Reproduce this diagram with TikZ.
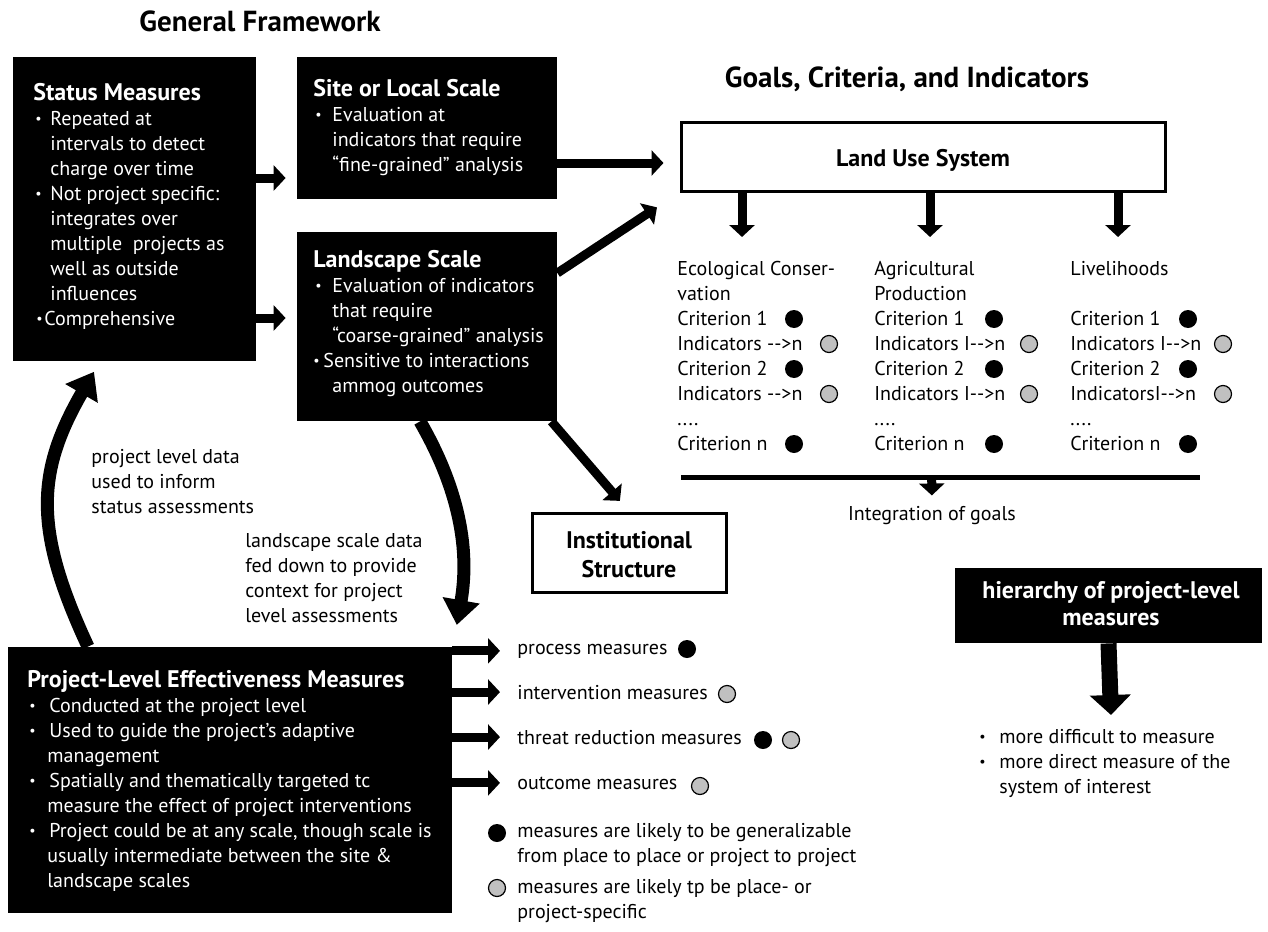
\documentclass[tikz,border=0pt]{standalone}
\usepackage{fontspec}
\setmainfont{PT Sans}
\usepackage{tikz}
\usetikzlibrary{arrows.meta, fit, calc}

\definecolor{dotgray}{RGB}{192,192,192}

\newcommand\dotbul{\raisebox{0.6pt}{\fontsize{7}{7}\selectfont•}}
\newcommand\bul[2]{\hspace*{#1}\makebox[#2][l]{\dotbul}}
\newcommand\hang[1]{\hspace*{#1}}
\newcommand\boxtitle{\fontsize{12}{12.5}\selectfont\bfseries}

\tikzset{
  blackbox/.style={fill=black, draw=none, inner sep=0pt},
  whitebox/.style={draw=black, line width=1.5pt, inner sep=0pt},
  bodytext/.style={inner sep=0pt, align=left, font=\fontsize{10}{12.5}\selectfont},
  whitetext/.style={bodytext, text=white},
  heading/.style={inner sep=0pt, font=\fontsize{14.5}{16}\selectfont\bfseries},
  fatarrow/.style={line width=4.5pt, -{Triangle[width=12.5pt, length=6pt]}},
  bigarc/.style={line width=6.5pt, -{Triangle[width=18pt, length=12.5pt]}},
  blackdot/.style={circle, fill=black, inner sep=0pt, minimum size=9pt},
  graydot/.style={circle, fill=dotgray, draw=black, line width=0.6pt, inner sep=0pt, minimum size=8.5pt}
}

\begin{document}
\begin{tikzpicture}[x=0.5pt, y=-0.5pt]
\useasboundingbox (0,0) rectangle (1268,931);

% titles
\node [heading, anchor=base] (genframe) at (260,32) {General Framework};
\node [heading, anchor=base] (goals) at (907,88) {Goals, Criteria, and Indicators};

% boxes
\node [blackbox, fit={(13,57) (256,361)}] (status) {};
\node [blackbox, fit={(297,57) (557,199)}] (site) {};
\node [blackbox, fit={(297,232) (557,421)}] (landscape) {};
\node [blackbox, fit={(8,647) (452,913)}] (project) {};
\node [blackbox, fit={(955,568) (1262,643)}] (hier) {};
\node [whitebox, fit={(681,123) (1165,191)}] (landuse) {};
\node [whitebox, fit={(532,513) (726,592)}] (inst) {};

% box texts (anchored at the last line)
\node [whitetext, anchor=base west] (statustxt) at (33,325) {{\boxtitle Status Measures}\\
  \bul{1pt}{7.5pt}Repeated at\\ \hang{8.5pt}intervals to detect\\ \hang{8.5pt}charge over time\\
  \bul{1pt}{7.5pt}Not project specific:\\ \hang{8.5pt}integrates over\\
  \hang{8.5pt}multiple\ \ projects as\\ \hang{8.5pt}well as outside\\ \hang{8.5pt}influences\\
  \bul{1.5pt}{4pt}Comprehensive};

\node [whitetext, anchor=base west] (sitetxt) at (313,171) {{\boxtitle Site or Local Scale}\\
  \bul{1pt}{8.5pt}Evaluation at\\ \hang{9.5pt}indicators that require\\
  \hang{9.5pt}“fine-grained” analysis};

\node [whitetext, anchor=base west] (landscapetxt) at (313,392) {{\boxtitle Landscape Scale}\\
  \bul{1pt}{8.5pt}Evaluation of indicators\\ \hang{9.5pt}that require\\
  \hang{9.5pt}“coarse-grained” analysis\\ \bul{0pt}{5pt}Sensitive to interactions\\
  \hang{9.5pt}ammog outcomes};

\node [whitetext, anchor=base west] (projecttxt) at (27,887) {{\boxtitle Project-Level Effectiveness Measures}\\
  \bul{1pt}{10pt}Conducted at the project level\\
  \bul{1pt}{10pt}Used to guide the project’s adaptive\\ \hang{10pt}management\\
  \bul{1pt}{10pt}Spatially and thematically targeted tc\\
  \hang{10pt}measure the effect of project interventions\\
  \bul{1pt}{10pt}Project could be at any scale, though scale is\\
  \hang{10pt}usually intermediate between the site \&\\ \hang{10pt}landscape scales};

\node [whitetext, align=center, anchor=base, font=\boxtitle\fontsize{12}{13.5}\selectfont] (hiertxt) at (1111,625)
  {hierarchy of project-level\\measures};
\node [bodytext, align=center, anchor=base, font=\boxtitle\fontsize{12}{14.5}\selectfont] (insttxt) at (629,577)
  {Institutional\\Structure};
\node [bodytext, anchor=base, font=\boxtitle] (landusetxt) at (923,166) {Land Use System};

% goals columns
\node [bodytext, anchor=base west] (ecol) at (677,450) {Ecological Conser-\\vation\\Criterion 1\\
  Indicators -{}->n\\Criterion 2\\Indicators -{}->n\\....\\Criterion n};
\node [bodytext, anchor=base west] (agri) at (874,450) {Agricultural\\Production\\Criterion 1\\
  Indicators I-{}->n\\Criterion 2\\Indicators I-{}->n\\....\\Criterion n};
\node [bodytext, anchor=base west] (live) at (1070,450) {Livelihoods\\ \mbox{}\\Criterion 1\\
  Indicators I-{}->n\\Criterion 2\\IndicatorsI-{}->n\\....\\Criterion n};

\foreach \x/\g in {794/829, 994/1029, 1188/1223} {
  \foreach \y in {319,369,444}
    \node [blackdot] (crit-\x-\y) at (\x,\y) {};
  \foreach \y in {344,394}
    \node [graydot] (ind-\g-\y) at (\g,\y) {};
}

\node [bodytext, anchor=base] (integ) at (932,520) {Integration of goals};

% measures
\node [bodytext, anchor=base west] (proc) at (517,654) {process measures};
\node [bodytext, anchor=base west] (interv) at (517,699) {intervention measures};
\node [bodytext, anchor=base west] (threat) at (517,744) {threat reduction measures};
\node [bodytext, anchor=base west] (outc) at (517,789) {outcome measures};
\node [blackdot] (procdot) at (687,649) {};
\node [graydot] (intervdot) at (727,694) {};
\node [blackdot] (threatdot) at (763,740) {};
\node [graydot] (threatdot2) at (791,740) {};
\node [graydot] (outcdot) at (700,786) {};

\node [blackdot] (keyblack) at (497,833) {};
\node [bodytext, anchor=base west] (keyblacktxt) at (517,862)
  {measures are likely to be generalizable\\from place to place or project to project};
\node [graydot] (keygray) at (497,888) {};
\node [bodytext, anchor=base west] (keygraytxt) at (517,918)
  {measures are likely tp be place- or\\project-specific};

\node [bodytext, anchor=base west] (hierlist) at (979,793) {\makebox[10pt][l]{\dotbul}more difficult to measure\\
  \makebox[10pt][l]{\dotbul}more direct measure of the\\ \hang{10pt}system of interest};

% curved arrow texts
\node [bodytext, anchor=base west] (uptxt) at (91,513) {project level data\\used to inform\\status assessments};
\node [bodytext, anchor=base west] (downtxt) at (245,622) {landscape scale data\\fed down to provide\\context for project\\level assessments};

% connectors
\draw [fatarrow, shorten >=5.5pt] (status.east |- 0,178) -- (site.west |- 0,178);
\draw [fatarrow, shorten >=5.5pt] (status.east |- 0,318) -- (landscape.west |- 0,318);
\draw [fatarrow, shorten >=8pt] (site.east |- 0,163) -- (landuse.west |- 0,163);
\draw [fatarrow, shorten >=13.5pt] (landscape.east |- 0,273) -- (landuse.south west);
\draw [fatarrow, shorten >=7pt] ([xshift=-3pt]landscape.south east) -- (inst.north);

\foreach \x/\n in {742/a, 930/b, 1118/c} {
  \coordinate (drop\n) at (\x,237);
  \draw [fatarrow] (landuse.south -| drop\n) -- (drop\n);
}

\coordinate (barL) at (681,477);
\coordinate (barR) at (1200,477);
\draw [line width=2.5pt] (barL) -- (barR);
\draw [fatarrow, shorten >=5pt] ($(barL)!0.483!(barR)$) -- (integ.north);

\draw [bigarc, shorten >=6pt] (project.north -| 88,0) to [out=115, in=240, looseness=1.15] (status.south -| 100,0);
\draw [bigarc, shorten >=11pt] (landscape.south -| 420,0) to [out=-60, in=80] (project.north -| 453,0);

\foreach \m in {proc, interv, threat, outc}
  \draw [fatarrow, shorten >=8.5pt] (project.east |- \m.west) -- (\m.west);

\coordinate (hiertip) at (1111,715);
\draw [line width=8pt, -{Triangle[width=20pt, length=10pt]}] (hier.south) -- (hiertip);

\end{tikzpicture}
\end{document}
